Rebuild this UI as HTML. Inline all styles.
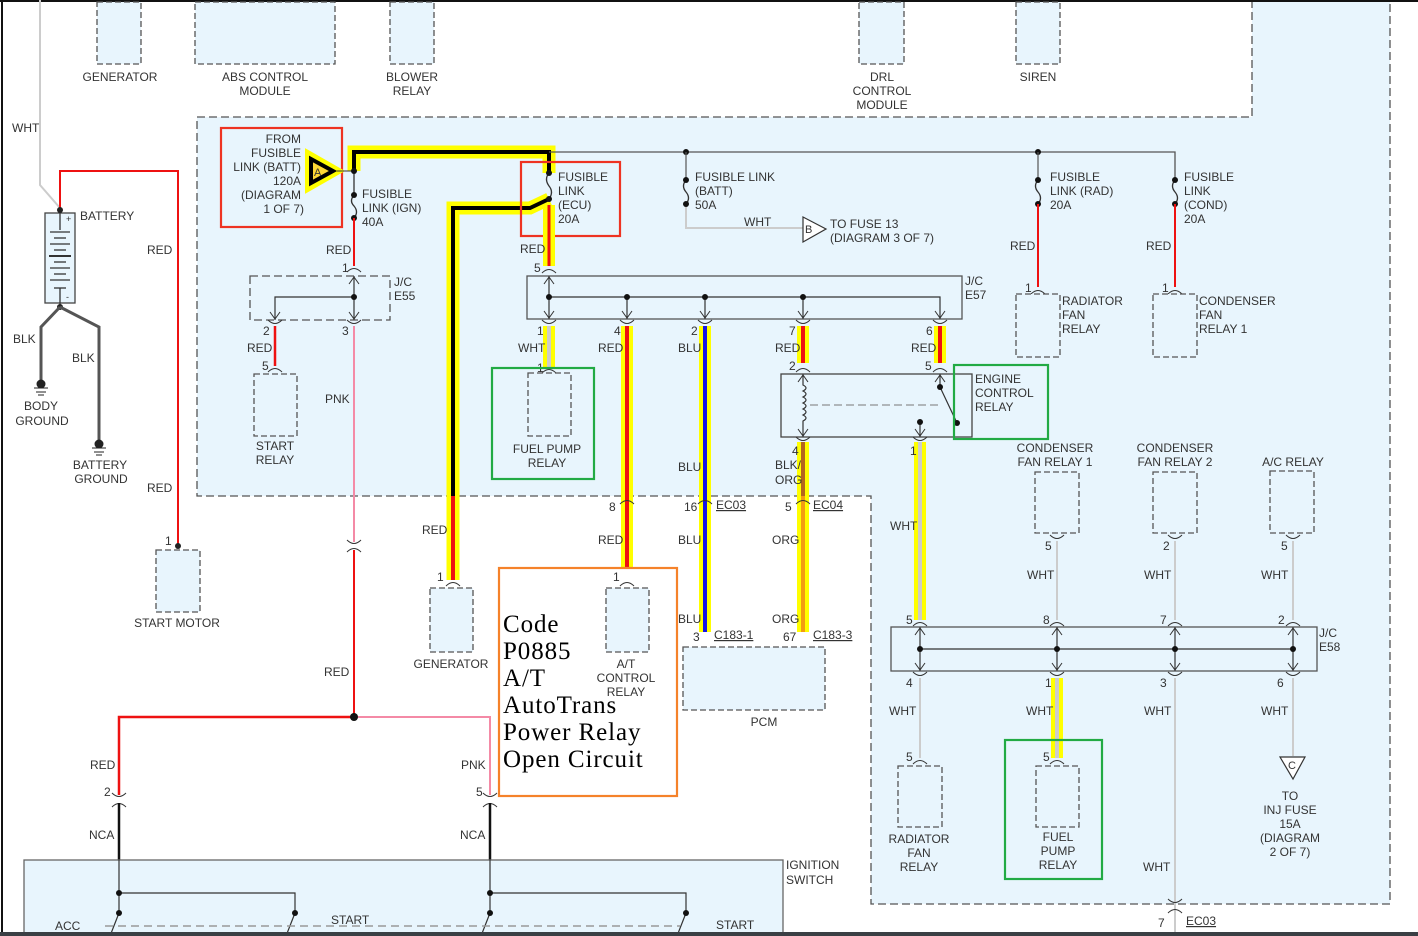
<!DOCTYPE html>
<html><head><meta charset="utf-8"><style>
html,body{margin:0;padding:0;background:#fff;}
svg{display:block;font-family:"Liberation Sans",sans-serif;font-size:12px;}
svg text{fill:#333;}
</style></head><body>
<svg width="1418" height="936" viewBox="0 0 1418 936" xmlns="http://www.w3.org/2000/svg">
<defs>
<path id="cu" d="M-7,4 Q0,-3 7,4" fill="none" stroke="#333" stroke-width="1"/>
<path id="cd" d="M-7,-4 Q0,3 7,-4" fill="none" stroke="#333" stroke-width="1"/>
<path id="ad" d="M-5,-7 L0,0 L5,-7" fill="none" stroke="#333" stroke-width="1"/>
<path id="au" d="M-5,7 L0,0 L5,7" fill="none" stroke="#333" stroke-width="1"/>
</defs>
<rect width="1418" height="936" fill="#fff"/>
<path d="M197,117 H1252 V0 H1390 V904 H871 V496 H197 Z" fill="#e8f5fd"/>
<g fill="none" stroke="#555" stroke-width="1.3" stroke-dasharray="8,4">
<path d="M1252,0 V117 H197 V496 H871 V904 H1390 V0"/>
</g>
<line x1="2" y1="0" x2="2" y2="936" stroke="#111" stroke-width="2"/>
<line x1="0" y1="1" x2="1418" y2="1" stroke="#111" stroke-width="2"/>

<g fill="#e8f5fd" stroke="#555" stroke-width="1.3" stroke-dasharray="6,3">
<rect x="97" y="2" width="44" height="62"/>
<rect x="195" y="2" width="140" height="62"/>
<rect x="390" y="2" width="44" height="62"/>
<rect x="859" y="2" width="45" height="62"/>
<rect x="1016" y="2" width="44" height="62"/>
</g>
<g text-anchor="middle">
<text x="120" y="81">GENERATOR</text>
<text x="265" y="81">ABS CONTROL</text><text x="265" y="95">MODULE</text>
<text x="412" y="81">BLOWER</text><text x="412" y="95">RELAY</text>
<text x="882" y="81">DRL</text><text x="882" y="95">CONTROL</text><text x="882" y="109">MODULE</text>
<text x="1038" y="81">SIREN</text>
</g>

<path d="M40,0 V185 L60,208" fill="none" stroke="#ccc" stroke-width="2"/>
<text x="12" y="132">WHT</text>
<path d="M60,210 V171 H178 V546" fill="none" stroke="#e11" stroke-width="2"/>
<rect x="45" y="213" width="30" height="90" fill="#e8f5fd" stroke="#444" stroke-width="1.3"/>
<g stroke="#333" stroke-width="1.3">
<line x1="60" y1="210" x2="60" y2="230"/><line x1="50" y1="232" x2="70" y2="232"/>
<line x1="54" y1="238" x2="66" y2="238"/><line x1="50" y1="244" x2="70" y2="244"/>
<line x1="54" y1="250" x2="66" y2="250"/><line x1="49" y1="256" x2="71" y2="256" stroke-width="2"/>
<line x1="54" y1="262" x2="66" y2="262"/><line x1="50" y1="268" x2="70" y2="268"/>
<line x1="54" y1="274" x2="66" y2="274"/><line x1="50" y1="280" x2="70" y2="280"/>
<line x1="54" y1="288" x2="66" y2="288"/><line x1="60" y1="288" x2="60" y2="307"/>
</g>
<text x="66" y="222" font-size="9">+</text><text x="66" y="300" font-size="9">-</text>
<circle cx="60" cy="210" r="3" fill="#222"/><circle cx="60" cy="307" r="3" fill="#222"/>
<text x="80" y="220">BATTERY</text>
<text x="147" y="254">RED</text><text x="147" y="492">RED</text>
<path d="M60,307 L41,327 V380 M60,307 L99,327 V440" fill="none" stroke="#555" stroke-width="3"/>
<g fill="#222" stroke="#222"><circle cx="41" cy="384" r="4"/><line x1="34" y1="388" x2="48" y2="388"/><line x1="36" y1="392" x2="46" y2="392"/><line x1="38" y1="395" x2="44" y2="395"/>
<circle cx="99" cy="444" r="4"/><line x1="92" y1="448" x2="106" y2="448"/><line x1="94" y1="452" x2="104" y2="452"/><line x1="96" y1="455" x2="102" y2="455"/></g>
<text x="13" y="343">BLK</text><text x="72" y="362">BLK</text>
<g text-anchor="middle"><text x="41" y="410">BODY</text><text x="42" y="425">GROUND</text>
<text x="100" y="469">BATTERY</text><text x="101" y="483">GROUND</text></g>
<rect x="156" y="550" width="44" height="62" fill="#e8f5fd" stroke="#555" stroke-width="1.3" stroke-dasharray="6,3"/>
<circle cx="178" cy="546" r="3" fill="#222"/>
<text x="165" y="545">1</text><text x="177" y="627" text-anchor="middle">START MOTOR</text>

<rect x="221" y="128" width="121" height="99" fill="none" stroke="#e32" stroke-width="2.2"/>
<g text-anchor="end"><text x="301" y="143">FROM</text><text x="301" y="157">FUSIBLE</text><text x="301" y="171">LINK (BATT)</text><text x="301" y="185">120A</text><text x="301" y="199">(DIAGRAM</text><text x="304" y="213">1 OF 7)</text></g>
<path d="M309,155 L337,171 L309,187 Z" fill="#fdd835" stroke="#ff0" stroke-width="8" stroke-linejoin="miter"/>
<path d="M311,159 L333,171 L311,183 Z" fill="#fdd835" stroke="#000" stroke-width="4"/>
<text x="314" y="176" font-size="11">A</text>

<path d="M354,171 V152 H549 V173" fill="none" stroke="#ff0" stroke-width="13"/>
<path d="M549,199 L530,208 H453 V580" fill="none" stroke="#ff0" stroke-width="13"/>
<path d="M354,171 V152 H549 V173" fill="none" stroke="#000" stroke-width="4"/>
<path d="M549,199 L530,208 H453 V496" fill="none" stroke="#000" stroke-width="4"/>
<line x1="453" y1="496" x2="453" y2="580" stroke="#e11" stroke-width="4"/>
<line x1="337" y1="171" x2="354" y2="171" stroke="#333" stroke-width="1"/>
<path d="M549,152 H1175 V180" fill="none" stroke="#555" stroke-width="1.3"/>
<g fill="#111"><circle cx="686" cy="152" r="3"/><circle cx="1038" cy="152" r="3"/></g>

<path d="M354,171 V195 M354,218 V224" stroke="#333" stroke-width="1.3" fill="none"/>
<path d="M354,195 q-5,6 0,11 q5,6 0,12" fill="none" stroke="#333" stroke-width="1.3"/>
<g fill="#111"><circle cx="354" cy="171" r="3"/><circle cx="354" cy="195" r="3"/><circle cx="354" cy="218" r="3"/></g>
<text x="362" y="198">FUSIBLE</text><text x="362" y="212">LINK (IGN)</text><text x="362" y="226">40A</text>
<line x1="354" y1="218" x2="354" y2="266" stroke="#e11" stroke-width="2"/>
<text x="326" y="254">RED</text>
<use href="#cu" x="354" y="268"/><text x="342" y="272">1</text>
<rect x="250" y="276" width="140" height="44" fill="#e8f5fd" stroke="#555" stroke-width="1.3" stroke-dasharray="8,4"/>
<text x="394" y="286">J/C</text><text x="394" y="300">E55</text>
<path d="M354,276 V320 M354,297 H275 V320" fill="none" stroke="#333" stroke-width="1.2"/>
<use href="#au" x="354" y="277"/><use href="#ad" x="354" y="319"/><use href="#ad" x="275" y="319"/>
<circle cx="354" cy="297" r="3" fill="#111"/>
<use href="#cd" x="275" y="324"/><use href="#cd" x="354" y="324"/>
<text x="263" y="335">2</text><text x="342" y="335">3</text>
<line x1="275" y1="326" x2="275" y2="366" stroke="#e11" stroke-width="2.5"/>
<text x="247" y="352">RED</text>
<use href="#cu" x="275" y="368"/><text x="262" y="370">5</text>
<rect x="254" y="374" width="43" height="62" fill="#e8f5fd" stroke="#555" stroke-width="1.3" stroke-dasharray="6,3"/>
<g text-anchor="middle"><text x="275" y="450">START</text><text x="275" y="464">RELAY</text></g>
<line x1="354" y1="326" x2="354" y2="542" stroke="#f48aa6" stroke-width="2"/>
<text x="325" y="403">PNK</text>
<use href="#cd" x="354" y="544"/><use href="#cu" x="354" y="548"/>
<line x1="354" y1="550" x2="354" y2="717" stroke="#e11" stroke-width="2"/>
<text x="324" y="676">RED</text>
<path d="M354,717 H119 V795" fill="none" stroke="#e11" stroke-width="2.5"/>
<path d="M354,717 H490 V795" fill="none" stroke="#f48aa6" stroke-width="2"/>
<circle cx="354" cy="717" r="4" fill="#111"/>
<text x="90" y="769">RED</text><text x="461" y="769">PNK</text>
<use href="#cd" x="119" y="797"/><use href="#cu" x="119" y="803"/>
<use href="#cd" x="490" y="797"/><use href="#cu" x="490" y="803"/>
<text x="104" y="796">2</text><text x="476" y="796">5</text>
<line x1="119" y1="803" x2="119" y2="860" stroke="#111" stroke-width="2.5"/>
<line x1="490" y1="803" x2="490" y2="860" stroke="#111" stroke-width="2.5"/>
<text x="89" y="839">NCA</text><text x="460" y="839">NCA</text>
<rect x="24" y="860" width="759" height="80" fill="#e8f5fd" stroke="#666" stroke-width="1.3"/>
<text x="786" y="869">IGNITION</text><text x="786" y="884">SWITCH</text>
<g stroke="#333" stroke-width="1.2" fill="none">
<path d="M119,860 V913 M119,893 H295 V913 M490,860 V913 M490,893 H686 V913"/>
<path d="M119,913 L110,936 M295,913 L286,936 M490,913 L481,936 M686,913 L677,936"/>
</g>
<g fill="#111"><circle cx="119" cy="893" r="3"/><circle cx="119" cy="913" r="3"/><circle cx="295" cy="913" r="3"/><circle cx="490" cy="893" r="3"/><circle cx="490" cy="913" r="3"/><circle cx="686" cy="913" r="3"/></g>
<line x1="105" y1="926" x2="680" y2="926" stroke="#999" stroke-width="1.5" stroke-dasharray="8,5"/>
<text x="55" y="930">ACC</text><text x="331" y="924">START</text><text x="716" y="929">START</text>

<rect x="430" y="588" width="43" height="64" fill="#e8f5fd" stroke="#555" stroke-width="1.3" stroke-dasharray="6,3"/>
<use href="#cu" x="453" y="582"/><text x="437" y="581">1</text>
<text x="422" y="534">RED</text>
<text x="451" y="668" text-anchor="middle">GENERATOR</text>

<path d="M549,173 q-5,6 0,13 q5,6 0,13" fill="none" stroke="#333" stroke-width="1.3"/>
<g fill="#111"><circle cx="549" cy="173" r="3"/><circle cx="549" cy="199" r="3"/></g>
<rect x="521" y="162" width="99" height="74" fill="none" stroke="#e32" stroke-width="2.2"/>
<text x="558" y="181">FUSIBLE</text><text x="558" y="195">LINK</text><text x="558" y="209">(ECU)</text><text x="558" y="223">20A</text>
<line x1="549" y1="205" x2="549" y2="266" stroke="#ff0" stroke-width="12"/>
<line x1="549" y1="205" x2="549" y2="266" stroke="#e11" stroke-width="3"/>
<text x="520" y="253">RED</text>
<use href="#cu" x="549" y="269"/><text x="534" y="272">5</text>

<path d="M686,152 V180" fill="none" stroke="#555" stroke-width="1.2"/>
<path d="M686,180 q-5,6 0,12 q5,6 0,12" fill="none" stroke="#333" stroke-width="1.3"/>
<path d="M686,204 V228 H803" fill="none" stroke="#ccc" stroke-width="2"/>
<g fill="#111"><circle cx="686" cy="180" r="3"/><circle cx="686" cy="204" r="3"/></g>
<text x="695" y="181">FUSIBLE LINK</text><text x="695" y="195">(BATT)</text><text x="695" y="209">50A</text>
<text x="744" y="226">WHT</text>
<path d="M803,217 L826,229 L803,242 Z" fill="#fff" stroke="#333" stroke-width="1.2"/>
<text x="805" y="233" font-size="11">B</text>
<text x="830" y="228">TO FUSE 13</text><text x="830" y="242">(DIAGRAM 3 OF 7)</text>

<path d="M1038,152 V180" stroke="#555" stroke-width="1.2"/>
<path d="M1038,180 q-5,6 0,12 q5,6 0,12" fill="none" stroke="#333" stroke-width="1.3"/>
<path d="M1175,180 q-5,6 0,12 q5,6 0,12" fill="none" stroke="#333" stroke-width="1.3"/>
<g fill="#111"><circle cx="1038" cy="180" r="3"/><circle cx="1038" cy="204" r="3"/><circle cx="1175" cy="180" r="3"/><circle cx="1175" cy="204" r="3"/></g>
<line x1="1038" y1="204" x2="1038" y2="287" stroke="#e11" stroke-width="2"/>
<line x1="1175" y1="204" x2="1175" y2="287" stroke="#e11" stroke-width="2"/>
<text x="1050" y="181">FUSIBLE</text><text x="1050" y="195">LINK (RAD)</text><text x="1050" y="209">20A</text>
<text x="1184" y="181">FUSIBLE</text><text x="1184" y="195">LINK</text><text x="1184" y="209">(COND)</text><text x="1184" y="223">20A</text>
<text x="1010" y="250">RED</text><text x="1146" y="250">RED</text>
<use href="#cu" x="1038" y="290"/><use href="#cu" x="1175" y="290"/>
<text x="1025" y="292">1</text><text x="1162" y="292">1</text>
<rect x="1016" y="294" width="44" height="63" fill="#e8f5fd" stroke="#555" stroke-width="1.3" stroke-dasharray="6,3"/>
<rect x="1153" y="294" width="44" height="63" fill="#e8f5fd" stroke="#555" stroke-width="1.3" stroke-dasharray="6,3"/>
<text x="1062" y="305">RADIATOR</text><text x="1062" y="319">FAN</text><text x="1062" y="333">RELAY</text>
<text x="1199" y="305">CONDENSER</text><text x="1199" y="319">FAN</text><text x="1199" y="333">RELAY 1</text>

<rect x="527" y="276" width="435" height="43" fill="#e8f5fd" stroke="#555" stroke-width="1.3"/>
<text x="965" y="285">J/C</text><text x="965" y="299">E57</text>
<path d="M549,276 V319 M549,297 H940 V319 M627,297 V319 M705,297 V319 M803,297 V319" fill="none" stroke="#333" stroke-width="1.2"/>
<use href="#au" x="549" y="277"/>
<use href="#ad" x="549" y="318"/><use href="#ad" x="627" y="318"/><use href="#ad" x="705" y="318"/><use href="#ad" x="803" y="318"/><use href="#ad" x="940" y="318"/>
<g fill="#111"><circle cx="549" cy="297" r="3"/><circle cx="627" cy="297" r="3"/><circle cx="705" cy="297" r="3"/><circle cx="803" cy="297" r="3"/></g>
<use href="#cd" x="549" y="324"/><use href="#cd" x="627" y="324"/><use href="#cd" x="705" y="324"/><use href="#cd" x="803" y="324"/><use href="#cd" x="940" y="324"/>
<text x="537" y="335">1</text><text x="614" y="335">4</text><text x="691" y="335">2</text><text x="789" y="335">7</text><text x="926" y="335">6</text>

<g stroke="#ff0" stroke-width="12">
<line x1="549" y1="326" x2="549" y2="367"/>
<line x1="627" y1="326" x2="627" y2="580"/>
<line x1="705" y1="326" x2="705" y2="632"/>
<line x1="803" y1="326" x2="803" y2="363"/>
<line x1="940" y1="326" x2="940" y2="363"/>
<line x1="803" y1="442" x2="803" y2="632"/>
<line x1="920" y1="442" x2="920" y2="620"/>
<line x1="1057" y1="678" x2="1057" y2="758"/>
</g>
<line x1="549" y1="326" x2="549" y2="367" stroke="#ccc" stroke-width="4"/>
<line x1="627" y1="326" x2="627" y2="580" stroke="#e11" stroke-width="4"/>
<line x1="705" y1="326" x2="705" y2="632" stroke="#1515e6" stroke-width="4"/>
<line x1="803" y1="326" x2="803" y2="363" stroke="#e11" stroke-width="4"/>
<line x1="940" y1="326" x2="940" y2="363" stroke="#e11" stroke-width="4"/>
<line x1="803" y1="442" x2="803" y2="496" stroke="#b5651d" stroke-width="4"/>
<line x1="803" y1="496" x2="803" y2="632" stroke="#f39c12" stroke-width="4"/>
<line x1="920" y1="442" x2="920" y2="620" stroke="#ccc" stroke-width="4"/>
<line x1="1057" y1="678" x2="1057" y2="758" stroke="#ccc" stroke-width="4"/>
<text x="518" y="352">WHT</text><text x="598" y="352">RED</text><text x="678" y="352">BLU</text><text x="775" y="352">RED</text><text x="911" y="352">RED</text>
<use href="#cu" x="549" y="369"/><text x="537" y="372">1</text>
<rect x="528" y="373" width="43" height="63" fill="#e8f5fd" stroke="#555" stroke-width="1.3" stroke-dasharray="6,3"/>
<rect x="492" y="368" width="102" height="111" fill="none" stroke="#22aa44" stroke-width="2.2"/>
<g text-anchor="middle"><text x="547" y="453">FUEL PUMP</text><text x="547" y="467">RELAY</text></g>
<text x="609" y="511">8</text><use href="#cu" x="627" y="500"/>
<text x="598" y="544">RED</text>
<text x="678" y="471">BLU</text><text x="684" y="511">16</text><use href="#cu" x="705" y="500"/>
<text x="716" y="509" text-decoration="underline">EC03</text>
<text x="678" y="544">BLU</text><text x="678" y="623">BLU</text>
<text x="693" y="641">3</text><text x="714" y="639" text-decoration="underline">C183-1</text>
<text x="792" y="455">4</text><text x="775" y="469">BLK/</text><text x="775" y="484">ORG</text>
<text x="785" y="511">5</text><use href="#cu" x="803" y="500"/>
<text x="813" y="509" text-decoration="underline">EC04</text>
<text x="772" y="544">ORG</text><text x="772" y="623">ORG</text>
<text x="783" y="641">67</text><text x="813" y="639" text-decoration="underline">C183-3</text>
<rect x="683" y="647" width="142" height="63" fill="#e8f5fd" stroke="#555" stroke-width="1.3" stroke-dasharray="6,3"/>
<text x="764" y="726" text-anchor="middle">PCM</text>
<text x="789" y="370">2</text><text x="925" y="370">5</text>
<use href="#cu" x="803" y="368"/><use href="#cu" x="940" y="368"/>
<rect x="781" y="374" width="191" height="63" fill="#e8f5fd" stroke="#444" stroke-width="1.3"/>
<g stroke="#333" stroke-width="1.2" fill="none">
<path d="M803,374 V385 q6,3 0,6 q6,3 0,6 q6,3 0,6 q6,3 0,6 q6,3 0,6 q6,3 0,6 V437"/>
<path d="M940,374 V387 L957,423"/>
<path d="M920,422 V437"/>
</g>
<line x1="810" y1="405" x2="938" y2="405" stroke="#777" stroke-width="1" stroke-dasharray="8,4"/>
<use href="#au" x="803" y="375"/><use href="#au" x="940" y="375"/><use href="#ad" x="803" y="436"/><use href="#ad" x="920" y="436"/>
<g fill="#111"><circle cx="940" cy="387" r="3"/><circle cx="957" cy="423" r="3"/><circle cx="920" cy="422" r="3"/></g>
<use href="#cd" x="803" y="441"/><use href="#cd" x="920" y="441"/>
<rect x="954" y="365" width="94" height="74" fill="none" stroke="#22aa44" stroke-width="2.2"/>
<text x="975" y="383">ENGINE</text><text x="975" y="397">CONTROL</text><text x="975" y="411">RELAY</text>
<text x="910" y="455">1</text><text x="890" y="530">WHT</text>

<rect x="499" y="568" width="178" height="228" fill="#fff" stroke="#f5822a" stroke-width="2.2"/>
<g font-family="'Liberation Serif',serif" font-size="25" letter-spacing="0.9">
<text x="503" y="632" style="fill:#000">Code</text><text x="503" y="659" style="fill:#000">P0885</text><text x="503" y="686" style="fill:#000">A/T</text>
<text x="503" y="713" style="fill:#000">AutoTrans</text><text x="503" y="740" style="fill:#000">Power Relay</text><text x="503" y="767" style="fill:#000">Open Circuit</text>
</g>
<rect x="606" y="588" width="43" height="64" fill="#e8f5fd" stroke="#555" stroke-width="1.3" stroke-dasharray="6,3"/>
<g text-anchor="middle"><text x="626" y="668">A/T</text><text x="626" y="682">CONTROL</text><text x="626" y="696">RELAY</text></g>
<text x="613" y="581">1</text><use href="#cu" x="627" y="582"/>

<g text-anchor="middle">
<text x="1055" y="452">CONDENSER</text><text x="1055" y="466">FAN RELAY 1</text>
<text x="1175" y="452">CONDENSER</text><text x="1175" y="466">FAN RELAY 2</text>
<text x="1293" y="466">A/C RELAY</text>
</g>
<g fill="#e8f5fd" stroke="#555" stroke-width="1.3" stroke-dasharray="6,3">
<rect x="1035" y="472" width="44" height="61"/>
<rect x="1153" y="472" width="44" height="61"/>
<rect x="1270" y="471" width="44" height="62"/>
<rect x="898" y="766" width="44" height="61"/>
<rect x="1036" y="766" width="43" height="61"/>
</g>
<use href="#cd" x="1057" y="539"/><use href="#cd" x="1175" y="539"/><use href="#cd" x="1293" y="539"/>
<text x="1045" y="550">5</text><text x="1163" y="550">2</text><text x="1281" y="550">5</text>
<g stroke="#ccc" stroke-width="2">
<line x1="1057" y1="541" x2="1057" y2="620"/><line x1="1175" y1="541" x2="1175" y2="620"/><line x1="1293" y1="541" x2="1293" y2="620"/>
<line x1="920" y1="678" x2="920" y2="758"/><line x1="1175" y1="678" x2="1175" y2="936"/><line x1="1293" y1="678" x2="1293" y2="756"/>
</g>
<text x="1027" y="579">WHT</text><text x="1144" y="579">WHT</text><text x="1261" y="579">WHT</text>
<use href="#cu" x="920" y="622"/><use href="#cu" x="1057" y="622"/><use href="#cu" x="1175" y="622"/><use href="#cu" x="1293" y="622"/>
<text x="906" y="624">5</text><text x="1043" y="624">8</text><text x="1160" y="624">7</text><text x="1278" y="624">2</text>
<rect x="891" y="627" width="426" height="44" fill="#e8f5fd" stroke="#555" stroke-width="1.3"/>
<text x="1319" y="637">J/C</text><text x="1319" y="651">E58</text>
<path d="M920,627 V671 M1057,627 V671 M1175,627 V671 M1293,627 V671 M920,649 H1293" stroke="#333" stroke-width="1.2" fill="none"/>
<use href="#au" x="920" y="628"/><use href="#au" x="1057" y="628"/><use href="#au" x="1175" y="628"/><use href="#au" x="1293" y="628"/>
<use href="#ad" x="920" y="670"/><use href="#ad" x="1057" y="670"/><use href="#ad" x="1175" y="670"/><use href="#ad" x="1293" y="670"/>
<g fill="#111"><circle cx="920" cy="649" r="3"/><circle cx="1057" cy="649" r="3"/><circle cx="1175" cy="649" r="3"/><circle cx="1293" cy="649" r="3"/></g>
<use href="#cd" x="920" y="676"/><use href="#cd" x="1057" y="676"/><use href="#cd" x="1175" y="676"/><use href="#cd" x="1293" y="676"/>
<text x="906" y="687">4</text><text x="1045" y="687">1</text><text x="1160" y="687">3</text><text x="1277" y="687">6</text>
<text x="889" y="715">WHT</text><text x="1026" y="715">WHT</text><text x="1144" y="715">WHT</text><text x="1261" y="715">WHT</text>
<use href="#cu" x="920" y="760"/><use href="#cu" x="1057" y="760"/>
<text x="906" y="761">5</text><text x="1043" y="761">5</text>
<g text-anchor="middle"><text x="919" y="843">RADIATOR</text><text x="919" y="857">FAN</text><text x="919" y="871">RELAY</text>
<text x="1058" y="841">FUEL</text><text x="1058" y="855">PUMP</text><text x="1058" y="869">RELAY</text></g>
<rect x="1005" y="740" width="97" height="139" fill="none" stroke="#22aa44" stroke-width="2.2"/>
<path d="M1280,757 L1305,757 L1293,779 Z" fill="#fff" stroke="#333" stroke-width="1.2"/>
<text x="1288" y="769" font-size="11">C</text>
<g text-anchor="middle"><text x="1290" y="800">TO</text><text x="1290" y="814">INJ FUSE</text><text x="1290" y="828">15A</text><text x="1290" y="842">(DIAGRAM</text><text x="1290" y="856">2 OF 7)</text></g>
<text x="1143" y="871">WHT</text>
<use href="#cd" x="1175" y="903"/><use href="#cu" x="1175" y="909"/>
<text x="1158" y="927">7</text><text x="1186" y="925" text-decoration="underline">EC03</text>
<rect x="0" y="932" width="1418" height="4" fill="#3a3f44"/>
</svg>
</body></html>
